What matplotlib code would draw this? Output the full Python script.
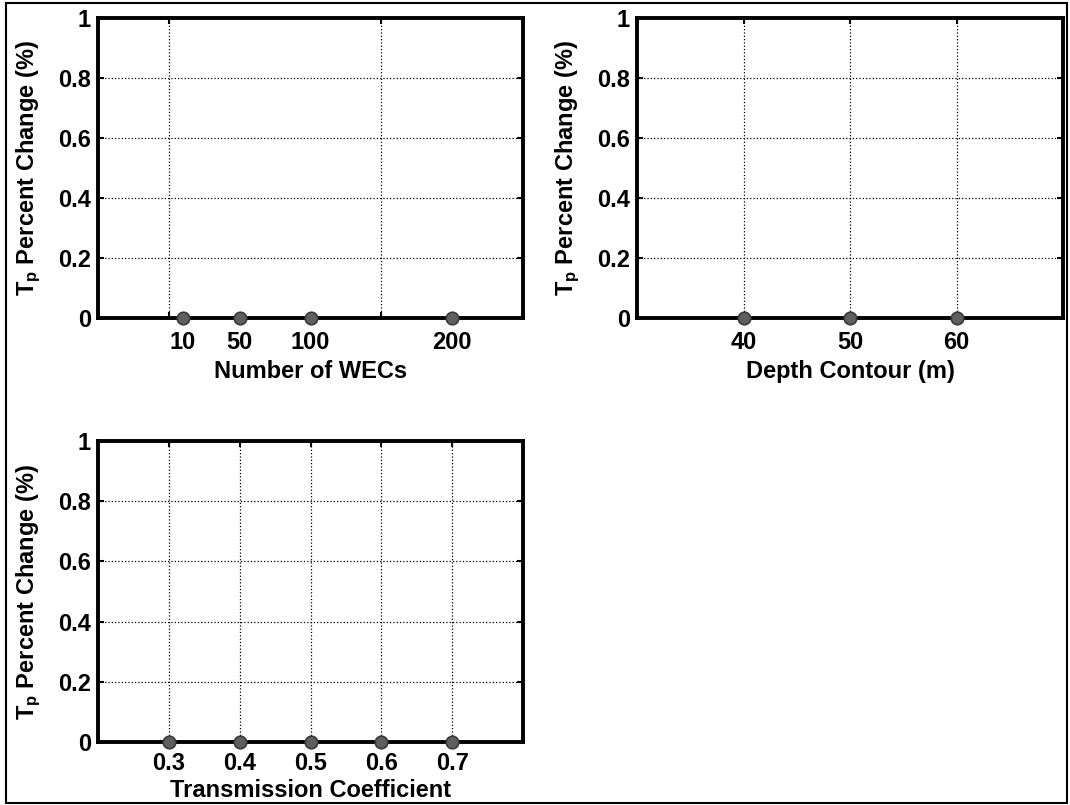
import matplotlib
matplotlib.use("Agg")
import matplotlib.pyplot as plt
from matplotlib.patches import Rectangle

plt.rcParams['font.family'] = ['Liberation Sans', 'DejaVu Sans']
plt.rcParams['font.weight'] = 'bold'
plt.rcParams['mathtext.fontset'] = 'custom'
plt.rcParams['mathtext.rm'] = 'Liberation Sans:bold'
plt.rcParams['mathtext.bf'] = 'Liberation Sans:bold'
plt.rcParams['mathtext.it'] = 'Liberation Sans:bold'

# Data
wec_counts = [10, 50, 100, 200]
wec_tp_change = [0, 0, 0, 0]
depth_contours = [40, 50, 60]
depth_tp_change = [0, 0, 0]
trans_coeffs = [0.3, 0.4, 0.5, 0.6, 0.7]
trans_tp_change = [0, 0, 0, 0, 0]

wec_grid_ticks = [0, 50, 100, 150, 200]
y_ticks = [0, 0.2, 0.4, 0.6, 0.8, 1]
y_ticklabels = ['0', '0.2', '0.4', '0.6', '0.8', '1']

W, H = 1070, 805
fig = plt.figure(figsize=(W / 100, H / 100), dpi=100)

def add_ax(x0, y0, x1, y1):
    return fig.add_axes([x0 / W, 1 - y1 / H, (x1 - x0) / W, (y1 - y0) / H])

ax1 = add_ax(98, 18, 523, 318)
ax2 = add_ax(637, 18, 1063, 318)
ax3 = add_ax(98, 441, 523, 742)

ylabel = r'T$_{\mathbf{p}}$ Percent Change (%)'
fs = 17

def style(ax, xlim):
    ax.set_xlim(*xlim)
    ax.set_ylim(0, 1)
    ax.set_yticks(y_ticks)
    ax.set_yticklabels(y_ticklabels)
    for s in ax.spines.values():
        s.set_linewidth(2.8)
        s.set_zorder(5)
    ax.tick_params(which='both', direction='in', top=True, right=True,
                   length=4, width=1.5, labelsize=fs, pad=5)
    ax.grid(True, which='major', axis='y', linestyle=':', color='black', linewidth=0.9)
    ax.set_ylabel(ylabel, fontsize=fs, fontweight='bold', labelpad=11)

marker_kw = dict(linestyle='none', marker='o', markersize=9, markerfacecolor='#5f5f5f',
                 markeredgecolor='#3a3a3a', markeredgewidth=1.2, clip_on=False, zorder=6)

# Subplot 1
style(ax1, (-50, 250))
ax1.set_xticks(wec_grid_ticks, minor=True)
ax1.set_xticks(wec_counts)
ax1.set_xticklabels([str(v) for v in wec_counts])
ax1.tick_params(axis='x', which='major', length=0, pad=9)
ax1.grid(True, which='minor', axis='x', linestyle=':', color='black', linewidth=0.9)
ax1.plot(wec_counts, wec_tp_change, **marker_kw)
ax1.set_xlabel('Number of WECs', fontsize=fs, fontweight='bold', labelpad=5)

# Subplot 2
style(ax2, (30, 70))
ax2.set_xticks(depth_contours)
ax2.set_xticklabels([str(v) for v in depth_contours])
ax2.tick_params(axis='x', pad=9)
ax2.grid(True, which='major', axis='x', linestyle=':', color='black', linewidth=0.9)
ax2.plot(depth_contours, depth_tp_change, **marker_kw)
ax2.set_xlabel('Depth Contour (m)', fontsize=fs, fontweight='bold', labelpad=5)

# Subplot 3
style(ax3, (0.2, 0.8))
ax3.set_xticks(trans_coeffs)
ax3.set_xticklabels([f'{v:.1f}' for v in trans_coeffs])
ax3.tick_params(axis='x', pad=7)
ax3.grid(True, which='major', axis='x', linestyle=':', color='black', linewidth=0.9)
ax3.plot(trans_coeffs, trans_tp_change, **marker_kw)
ax3.set_xlabel('Transmission Coefficient', fontsize=fs, fontweight='bold', labelpad=3)

# Outer border
fig.add_artist(Rectangle((6 / W, 2 / H), (1067 - 6) / W, (803 - 3) / H,
                         transform=fig.transFigure, fill=False, linewidth=1.5,
                         edgecolor='black'))

fig.savefig('out.png', dpi=100)
